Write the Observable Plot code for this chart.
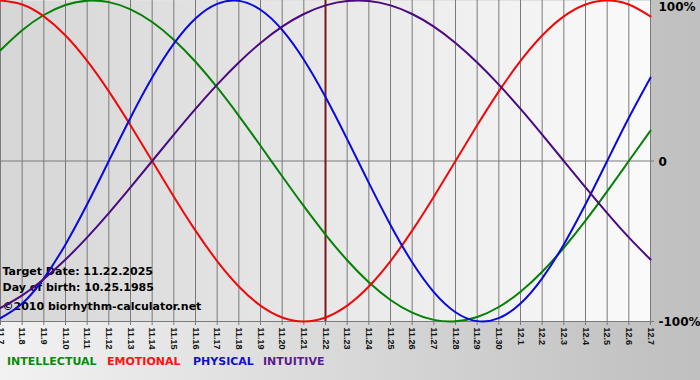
<!DOCTYPE html>
<html>
<head>
<meta charset="utf-8">
<script src="https://cdn.jsdelivr.net/npm/d3@7"></script>
<script src="https://cdn.jsdelivr.net/npm/@observablehq/plot@0.6"></script>
<style>
  html, body { margin: 0; padding: 0; }
  body { width: 700px; height: 380px; overflow: hidden; }
  #wrap { position: relative; width: 700px; height: 380px;
    background: linear-gradient(to right, #f2f2f2 0%, #c2c2c2 93%, #c0c0c0 100%); }
  #legend { position: absolute; left: 0; top: 355px; height: 14px; width: 700px;
    font: bold 11px "DejaVu Sans", sans-serif; line-height: 14px; }
  #legend span { position: absolute; top: 0; white-space: nowrap; }
</style>
</head>
<body>
<div id="wrap"><div id="chart"></div><div id="legend"></div></div>
<script>
// ---- data ----
const dayLabels = ["11.7","11.8","11.9","11.10","11.11","11.12","11.13","11.14","11.15","11.16",
  "11.17","11.18","11.19","11.20","11.21","11.22","11.23","11.24","11.25","11.26",
  "11.27","11.28","11.29","11.30","12.1","12.2","12.3","12.4","12.5","12.6","12.7"];

const physical = [-0.9791,-0.8880,-0.7308,-0.5196,-0.2698,0,0.2698,0.5196,0.7308,0.8880,
  0.9791,0.9977,0.9423,0.8170,0.6311,0.3984,0.1362,-0.1362,-0.3984,-0.6311,
  -0.8170,-0.9423,-0.9977,-0.9791,-0.8880,-0.7308,-0.5196,-0.2698,0,0.2698,0.5196];

const emotional = [1,0.9749,0.9010,0.7818,0.6235,0.4339,0.2225,0,-0.2225,-0.4339,
  -0.6235,-0.7818,-0.9010,-0.9749,-1,-0.9749,-0.9010,-0.7818,-0.6235,-0.4339,
  -0.2225,0,0.2225,0.4339,0.6235,0.7818,0.9010,0.9749,1,0.9749,0.9010];

const intellectual = [0.6901,0.8146,0.9096,0.9718,0.9989,0.9898,0.9450,0.8660,0.7557,0.6182,
  0.4582,0.2817,0.0951,-0.0951,-0.2817,-0.4582,-0.6182,-0.7557,-0.8660,-0.9450,
  -0.9898,-0.9989,-0.9718,-0.9096,-0.8146,-0.6901,-0.5406,-0.3717,-0.1893,0,0.1893];

const intuitive = [-0.9158,-0.8372,-0.7357,-0.6142,-0.4759,-0.3247,-0.1646,0,0.1646,0.3247,
  0.4759,0.6142,0.7357,0.8372,0.9158,0.9694,0.9966,0.9966,0.9694,0.9158,
  0.8372,0.7357,0.6142,0.4759,0.3247,0.1646,0,-0.1646,-0.3247,-0.4759,-0.6142];

const seriesNames = ["INTELLECTUAL","EMOTIONAL","PHYSICAL","INTUITIVE"];
const yTickValues = [1, 0, -1];
const yTickLabels = ["100%", "0", "-100%"];
const targetLabel = "11.22";
const infoLines = ["Target Date: 11.22.2025", "Day of birth: 10.25.1985", "\u00a92010 biorhythm-calculator.net"];

// ---- styles ----
const lineColors = {INTELLECTUAL: "#078007", EMOTIONAL: "#ee0a0a", PHYSICAL: "#0a0ae0", INTUITIVE: "#4a0a80"};
const legendColors = {INTELLECTUAL: "#0a8a0a", EMOTIONAL: "#ff1010", PHYSICAL: "#1010d0", INTUITIVE: "#5a1a90"};
const legendLeft = [7, 107, 193, 263];
const infoDy = [-50, -34, -15];

const seriesValues = {INTELLECTUAL: intellectual, EMOTIONAL: emotional, PHYSICAL: physical, INTUITIVE: intuitive};
const days = dayLabels.map((label, i) => ({i, label}));
const rows = seriesNames.flatMap(name => seriesValues[name].map((v, i) => ({i, v, name})));
const targetIndex = dayLabels.indexOf(targetLabel);
const yTicks = yTickValues.map((v, k) => ({v, label: yTickLabels[k]}));

const chart = Plot.plot({
  width: 700,
  height: 350,
  marginLeft: 0,
  marginRight: 50,
  marginTop: 0,
  marginBottom: 29,
  style: {background: "transparent", overflow: "visible"},
  x: {domain: [0, dayLabels.length - 1], axis: null},
  y: {domain: [-1, 1], axis: null},
  marks: [
    Plot.frame({fill: "url(#plotbg)", stroke: null}),
    Plot.ruleX(days, {x: "i", stroke: "#7a7a7a", strokeWidth: 1, strokeOpacity: 1, insetBottom: -4}),
    Plot.ruleY([0, -1], {stroke: "#7a7a7a", strokeWidth: 1, insetRight: -4}),
    Plot.text(infoLines.map((t, k) => ({t, k})), {
      text: "t", frameAnchor: "bottom-left",
      fill: "#000", fontSize: 11, fontWeight: "bold", fontFamily: "DejaVu Sans", textAnchor: "start"
    }),
    Plot.ruleX([targetIndex], {stroke: "#7a1a1a", strokeWidth: 2}),
    Plot.line(rows, {x: "i", y: "v", z: "name", stroke: d => lineColors[d.name], strokeWidth: 2, curve: "natural"}),
    Plot.text(days, {
      x: "i", frameAnchor: "bottom", text: "label", rotate: 90, textAnchor: "start", lineAnchor: "middle",
      dy: 6, fontSize: 9, fontWeight: "bold", fontFamily: "Liberation Sans", fill: "#111"
    }),
    Plot.text(yTicks.filter(d => d.v === 1), {
      text: "label", frameAnchor: "top-right", textAnchor: "start", lineAnchor: "middle", dx: 8, dy: 7,
      fontSize: 12, fontWeight: "bold", fontFamily: "DejaVu Sans", fill: "#000"
    }),
    Plot.text(yTicks.filter(d => d.v !== 1), {
      y: "v", text: "label", frameAnchor: "right", textAnchor: "start", lineAnchor: "middle", dx: 8, dy: 1,
      fontSize: 12, fontWeight: "bold", fontFamily: "DejaVu Sans", fill: "#000"
    })
  ]
});

// position info lines individually (frame-anchored with offsets)
chart.querySelectorAll("text").forEach(t => {
  const k = infoLines.indexOf(t.textContent);
  if (k >= 0) {
    t.setAttribute("dx", 2);
    t.setAttribute("dy", infoDy[k]);
    t.setAttribute("dominant-baseline", "middle");
  }
});

// gradient for the plotting area
const ns = "http://www.w3.org/2000/svg";
const defs = document.createElementNS(ns, "defs");
const grad = document.createElementNS(ns, "linearGradient");
grad.setAttribute("id", "plotbg");
grad.setAttribute("x1", "0"); grad.setAttribute("x2", "1");
grad.setAttribute("y1", "0"); grad.setAttribute("y2", "0");
[["0%", "#d6d6d6"], ["100%", "#fafafa"]].forEach(([o, c]) => {
  const s = document.createElementNS(ns, "stop");
  s.setAttribute("offset", o); s.setAttribute("stop-color", c);
  grad.appendChild(s);
});
defs.appendChild(grad);
chart.insertBefore(defs, chart.firstChild);

document.getElementById("chart").appendChild(chart);

const legend = document.getElementById("legend");
seriesNames.forEach((name, k) => {
  const s = document.createElement("span");
  s.textContent = name;
  s.style.left = legendLeft[k] + "px";
  s.style.color = legendColors[name];
  legend.appendChild(s);
});
</script>
</body>
</html>
